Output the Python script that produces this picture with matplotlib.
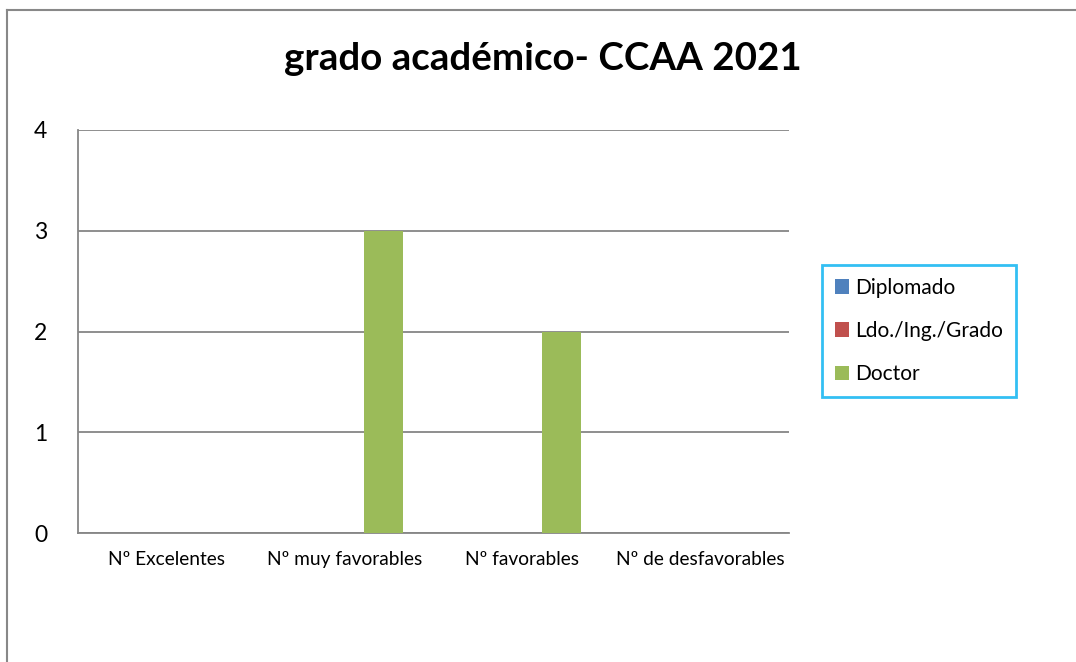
import matplotlib.pyplot as plt
from matplotlib.lines import Line2D
import numpy as np

plt.rcParams['font.family'] = ['Lato', 'DejaVu Sans']

categorias = ['Nº Excelentes', 'Nº muy favorables', 'Nº favorables', 'Nº de desfavorables']
series = ['Diplomado', 'Ldo./Ing./Grado', 'Doctor']
diplomado = [0, 0, 0, 0]
ldo_ing_grado = [0, 0, 0, 0]
doctor = [0, 3, 2, 0]
colores = ['#4F81BD', '#C0504D', '#9BBB59']

W, H = 1076, 662
fig = plt.figure(figsize=(W / 100, H / 100), dpi=100)
ax = fig.add_axes([78 / W, 1 - 533 / H, (789 - 78) / W, (533 - 130) / H])

x = np.arange(len(categorias))
ancho = 0.22
valores = [diplomado, ldo_ing_grado, doctor]
for i, (nombre, vals, c) in enumerate(zip(series, valores, colores)):
    ax.bar(x + (i - 1) * ancho, vals, ancho, color=c, label=nombre, zorder=3)

ax.set_xlim(-0.5, len(categorias) - 0.5)
ax.set_ylim(0, 4)
ax.set_yticks(range(0, 5))
ax.set_xticks(x)
ax.set_xticklabels(categorias, fontsize=13.8)
ax.tick_params(axis='y', length=0, pad=22, labelsize=16.5)
ax.tick_params(axis='x', length=0, pad=13)
ax.grid(axis='y', color='#868686', linewidth=1.3, zorder=0)
for s in ['top', 'right']:
    ax.spines[s].set_visible(False)
for s in ['left', 'bottom']:
    ax.spines[s].set_color('#868686')
    ax.spines[s].set_linewidth(1.3)

fig.text(543 / W, 1 - 59 / H, 'grado académico- CCAA 2021', ha='center', va='center',
         fontsize=27.7, fontweight='bold')

leg = fig.legend(loc='center left', bbox_to_anchor=(822 / W, 1 - 331 / H), fontsize=15,
                 frameon=True, fancybox=False, handlelength=0.7, handleheight=0.7,
                 handletextpad=0.3, labelspacing=1.12, borderpad=0.6, borderaxespad=0)
leg.get_frame().set_edgecolor('#00B0F0')
leg.get_frame().set_linewidth(2)

# borde exterior (solo arriba e izquierda se ven)
y_top = 1 - 10 / H
x_left = 7 / W
fig.lines.append(Line2D([x_left, 1.0], [y_top, y_top], transform=fig.transFigure,
                        color='#888888', linewidth=1.5))
fig.lines.append(Line2D([x_left, x_left], [0, y_top], transform=fig.transFigure,
                        color='#888888', linewidth=1.5))

fig.savefig('out.png', dpi=100)
